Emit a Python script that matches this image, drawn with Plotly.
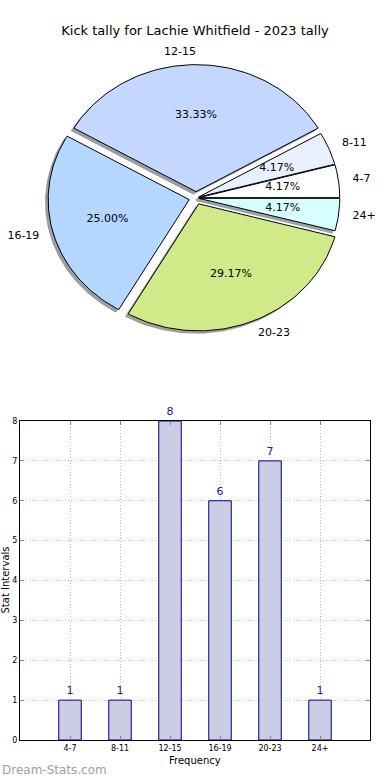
import numpy as np
import plotly.graph_objects as go

# ---------------- data ----------------
title_text = "Kick tally for Lachie Whitfield - 2023 tally"
categories = ["4-7", "8-11", "12-15", "16-19", "20-23", "24+"]
counts = [1, 1, 8, 6, 7, 1]
pie_colors = ["#FFFFFF", "#E8F0FF", "#C4D8FF", "#B4D6FF", "#D0EA8A", "#D8FFFF"]
explode = [0.02, 0.02, 0.05, 0.05, 0.05, 0.02]
y_ticks = list(range(0, 9))
x_title = "Frequency"
y_title = "Stat Intervals"
watermark = "Dream-Stats.com"

W, H = 390, 780
FONT = "DejaVu Sans"

# pixel geometry of the pie (center, radii)
PCX, PCY, RX, RY = 196, 198, 141, 127
PIE_TOP, PIE_BOT = 45, 350
# bar axes box in pixels
BX0, BX1, BY0, BY1 = 20, 370, 421, 740


def hex_to_rgb(h):
    h = h.lstrip("#")
    return tuple(int(h[i:i + 2], 16) for i in (0, 2, 4))


fig = go.Figure()

total = sum(counts)
wedges = []
start = 0.0
for cat, c, col, ex in zip(categories, counts, pie_colors, explode):
    span = 360.0 * c / total
    a0, a1 = start, start + span
    mid = np.deg2rad((a0 + a1) / 2)
    cx, cy = ex * np.cos(mid), ex * np.sin(mid)
    th = np.linspace(np.deg2rad(a0), np.deg2rad(a1), 80)
    xs = np.concatenate([[cx], cx + np.cos(th), [cx]])
    ys = np.concatenate([[cy], cy + np.sin(th), [cy]])
    wedges.append(dict(cat=cat, c=c, col=col, xs=xs, ys=ys, cx=cx, cy=cy, mid=mid))
    start = a1

# shadows (drawn beneath every wedge)
for w in wedges:
    r, g, b = hex_to_rgb(w["col"])
    sc = f"rgba({int(r*0.3)},{int(g*0.3)},{int(b*0.3)},0.5)"
    fig.add_trace(go.Scatter(x=w["xs"] - 0.02, y=w["ys"] - 0.02, mode="lines",
                             fill="toself", fillcolor=sc, line=dict(color=sc, width=0.5),
                             xaxis="x2", yaxis="y2", hoverinfo="skip", showlegend=False))
# wedges
for w in wedges:
    fig.add_trace(go.Scatter(x=w["xs"], y=w["ys"], mode="lines", fill="toself",
                             fillcolor=w["col"], line=dict(color="black", width=1),
                             xaxis="x2", yaxis="y2", hoverinfo="skip", showlegend=False))

# percentage texts and category labels
pct_x, pct_y, pct_t = [], [], []
for w in wedges:
    pct_x.append(w["cx"] + 0.6 * np.cos(w["mid"]))
    pct_y.append(w["cy"] + 0.6 * np.sin(w["mid"]))
    pct_t.append(f"{100.0 * w['c'] / total:.2f}%")
fig.add_trace(go.Scatter(x=pct_x, y=pct_y, text=pct_t, mode="text",
                         textfont=dict(family=FONT, size=11, color="black"),
                         xaxis="x2", yaxis="y2", hoverinfo="skip", showlegend=False))
for w in wedges:
    lx = w["cx"] + 1.1 * np.cos(w["mid"])
    ly = w["cy"] + 1.1 * np.sin(w["mid"])
    pos = "middle right" if np.cos(w["mid"]) > 0.01 else "middle left"
    fig.add_trace(go.Scatter(x=[lx], y=[ly], text=[w["cat"]], mode="text",
                             textposition=pos,
                             textfont=dict(family=FONT, size=11, color="black"),
                             xaxis="x2", yaxis="y2", hoverinfo="skip", showlegend=False))

# bar chart
fig.add_trace(go.Bar(x=categories, y=counts, width=0.45,
                     marker=dict(color="rgb(204,204,228)",
                                 line=dict(color="#00008B", width=1)),
                     text=[str(v) for v in counts], textposition="outside",
                     textfont=dict(family=FONT, size=11, color="#1a1a9a"),
                     cliponaxis=False, xaxis="x", yaxis="y",
                     hoverinfo="skip", showlegend=False))

fig.update_layout(
    width=W, height=H,
    margin=dict(l=0, r=0, t=0, b=0, autoexpand=False),
    paper_bgcolor="white", plot_bgcolor="white",
    font=dict(family=FONT, color="black"),
    title=dict(text=title_text, x=195 / W, xanchor="center", y=1 - 30 / H, yanchor="middle",
               font=dict(family=FONT, size=13, color="black")),
    xaxis=dict(domain=[BX0 / W, BX1 / W], range=[-1, 6], type="category",
               anchor="y", showline=True, linecolor="black", linewidth=1, mirror="ticks",
               ticks="inside", ticklen=4, tickcolor="#888", automargin=False,
               showgrid=True, gridcolor="#bcbcbc", griddash="1px,2px", gridwidth=1,
               tickfont=dict(family=FONT, size=8, color="black"),
               zeroline=False, fixedrange=True),
    yaxis=dict(domain=[1 - BY1 / H, 1 - BY0 / H], range=[0, 8], tickvals=y_ticks,
               anchor="x", showline=True, linecolor="black", linewidth=1, mirror="ticks",
               ticks="inside", ticklen=4, tickcolor="#888", automargin=False,
               showgrid=True, gridcolor="#bcbcbc", griddash="1px,2px", gridwidth=1,
               tickfont=dict(family=FONT, size=8, color="black"),
               zeroline=False, fixedrange=True),
    xaxis2=dict(domain=[0, 1], range=[-PCX / RX, (W - PCX) / RX], anchor="y2",
                visible=False, fixedrange=True, automargin=False),
    yaxis2=dict(domain=[1 - PIE_BOT / H, 1 - PIE_TOP / H],
                range=[-(PIE_BOT - PCY) / RY, (PCY - PIE_TOP) / RY], anchor="x2",
                visible=False, fixedrange=True, automargin=False),
    annotations=[
        dict(text=y_title, textangle=-90, xref="paper", yref="paper",
             x=5 / W, y=1 - ((BY0 + BY1) / 2) / H, xanchor="center", yanchor="middle",
             showarrow=False, font=dict(family=FONT, size=10, color="black")),
        dict(text=x_title, xref="paper", yref="paper",
             x=((BX0 + BX1) / 2) / W, y=1 - 760 / H, xanchor="center", yanchor="middle",
             showarrow=False, font=dict(family=FONT, size=10, color="black")),
        dict(text=watermark, xref="paper", yref="paper", x=0, y=1 - 770 / H,
             xanchor="left", yanchor="middle", showarrow=False,
             font=dict(family=FONT, size=12, color="#a0a0a0")),
    ],
)

# the page's default 8px body margin would push the 390x780 figure off-canvas
fig.write_html("out.html", config={"displayModeBar": False},
               post_script="document.body.style.margin='0px';")
